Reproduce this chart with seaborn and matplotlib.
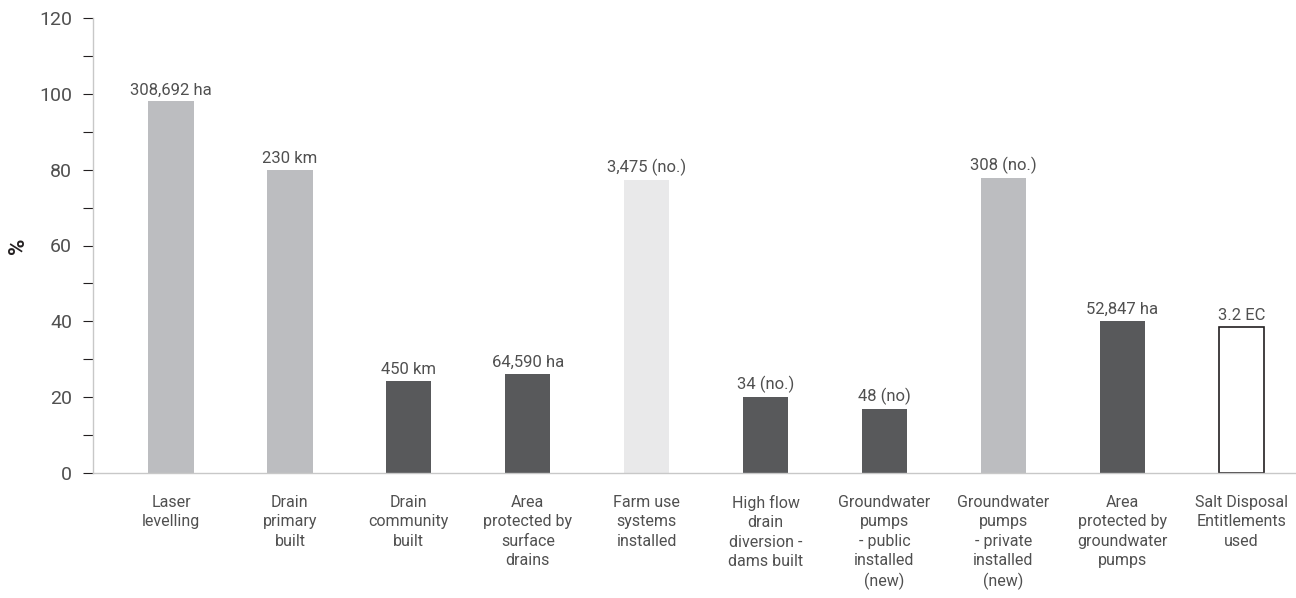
import matplotlib
matplotlib.use("Agg")
import matplotlib.pyplot as plt
import seaborn as sns
import pandas as pd
from matplotlib.ticker import MultipleLocator

categories = ["Laser\nlevelling", "Drain\nprimary\nbuilt", "Drain\ncommunity\nbuilt",
              "Area\nprotected by\nsurface\ndrains", "Farm use\nsystems\ninstalled",
              "High flow\ndrain\ndiversion -\ndams built", "Groundwater\npumps\n- public\ninstalled\n(new)",
              "Groundwater\npumps\n- private\ninstalled\n(new)", "Area\nprotected by\ngroundwater\npumps",
              "Salt Disposal\nEntitlements\nused"]
values = [98, 80, 24.3, 26.1, 77.3, 20, 16.9, 77.8, 40.1, 38.5]
value_labels = ["308,692 ha", "230 km", "450 km", "64,590 ha", "3,475 (no.)", "34 (no.)",
                "48 (no)", "308 (no.)", "52,847 ha", "3.2 EC"]
fills = ["#bcbdc0", "#bcbdc0", "#58595b", "#58595b", "#e9e9ea", "#58595b", "#58595b",
         "#bcbdc0", "#58595b", "#ffffff"]

sns.set_theme(style="white")
plt.rcParams["font.family"] = ["Roboto", "DejaVu Sans"]

txt = "#505050"
df = pd.DataFrame({"cat": categories, "val": values})
fig = plt.figure(figsize=(12.96, 5.98), dpi=100)
ax = fig.add_axes([93/1296, 125/598, 1 - 93/1296, 455/598])
sns.barplot(data=df, x="cat", y="val", hue="cat", palette=fills, legend=False,
            width=0.38, ax=ax, saturation=1)
for i, p in enumerate(ax.patches):
    if fills[i] == "#ffffff":
        p.set_edgecolor("#231f20")
        p.set_linewidth(1.2)
    else:
        p.set_linewidth(0)
    ax.text(p.get_x() + p.get_width()/2, p.get_height() + 1.0, value_labels[i],
            ha="center", va="bottom", fontsize=12, color=txt)

ax.set_xlim(-0.656, 9.46)
ax.set_ylim(0, 120)
ax.yaxis.set_major_locator(MultipleLocator(20))
ax.yaxis.set_minor_locator(MultipleLocator(10))
ax.tick_params(axis="y", which="both", left=True, direction="out", length=7, width=0.8,
               color="#231f20", labelsize=14, labelcolor=txt, pad=8)
ax.tick_params(axis="x", bottom=False, pad=10)
ax.set_xticks(range(len(categories)))
ax.set_xticklabels(categories, fontsize=11.5, color=txt, linespacing=1.35, va="top")
ax.set_xlabel("")
ax.set_ylabel("%", fontsize=16, fontweight="bold", color="#231f20")
ax.yaxis.set_label_coords(-64/1203, 0.5)
for s in ["top", "right"]:
    ax.spines[s].set_visible(False)
for s in ["left", "bottom"]:
    ax.spines[s].set_color("#c8c8c8")
    ax.spines[s].set_linewidth(1)
fig.savefig("out.png", dpi=100)
